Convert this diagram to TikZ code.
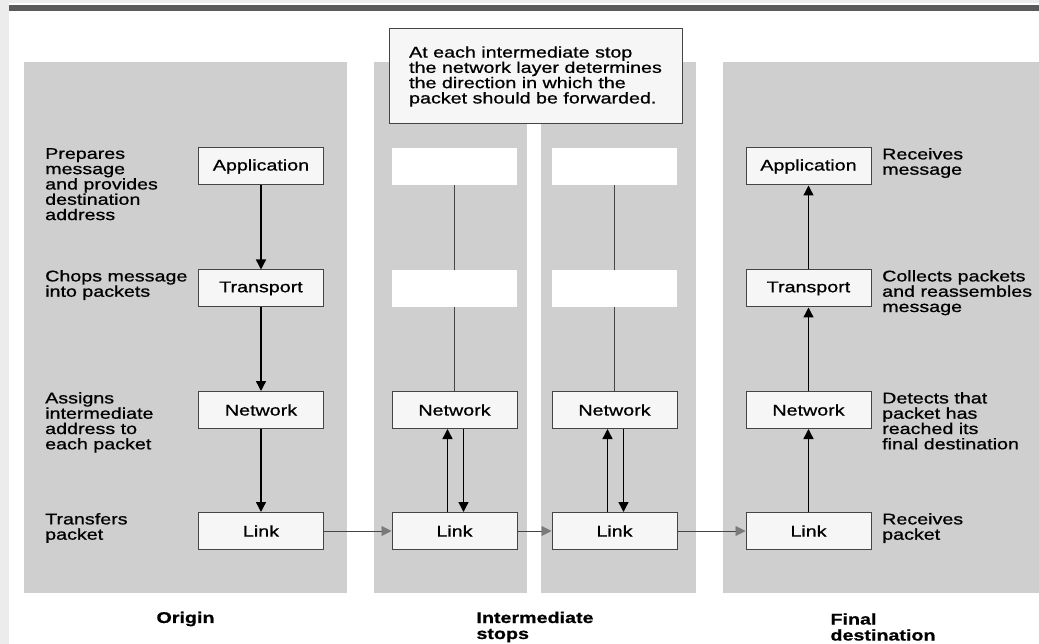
\documentclass[tikz,border=0pt]{standalone}
\usepackage{fontspec}
\setmainfont{Liberation Sans}[FakeStretch=1.27, FakeBold=0.8]
\usetikzlibrary{arrows.meta, positioning}
\definecolor{pagegray}{HTML}{ECECEC}
\definecolor{bargray}{HTML}{5A5A5A}
\definecolor{panelgray}{HTML}{CFCFCF}
\definecolor{boxfill}{HTML}{F6F6F6}
\definecolor{boxedge}{HTML}{454545}
\definecolor{hopgray}{HTML}{7A7A7A}

\begin{document}
\begin{tikzpicture}[x=1pt, y=-1pt,
    every node/.style={font=\fontsize{15.5}{15.3}\selectfont},
    panel/.style={fill=panelgray, draw=none},
    layer/.style={rectangle, draw=boxedge, fill=boxfill, line width=1pt, minimum width=125pt, minimum height=37pt, inner sep=0pt},
    blank/.style={rectangle, fill=white, minimum width=125pt, minimum height=37pt, inner sep=0pt},
    note/.style={anchor=north west, align=left, inner sep=0pt},
    caption/.style={align=left, inner sep=0pt, font=\fontsize{15.5}{16}\selectfont\bfseries},
    pass/.style={-{Triangle[length=10pt, width=10pt]}, line width=1.4pt},
    wire/.style={line width=1.1pt, color=boxedge},
    hop/.style={-{Triangle[length=10pt, width=10pt, color=hopgray]}, line width=0.9pt, color=boxedge}
]
\useasboundingbox (0,0) rectangle (1039,644);

% Page frame
\fill[pagegray] (0,0) rectangle (1039,644);
\fill[white] (9,3) rectangle (1039,644);
\fill[bargray] (9,5) rectangle (1039,11);

% Panels
\fill[panel] (24,62) rectangle (347,593);
\fill[panel] (374,62) rectangle (527,593);
\fill[panel] (541,62) rectangle (696,593);
\fill[panel] (723,62) rectangle (1039,593);

% Callout
\node[rectangle, draw=boxedge, fill=boxfill, line width=1pt, minimum width=293pt, minimum height=95pt, align=left] (callout) at (535.5,76.5)
  {At each intermediate stop\\the network layer determines\\the direction in which the\\packet should be forwarded.};

% Origin
\node[layer] (oapp) at (261,166.5) {Application};
\node[layer] (otra) at (261,288.5) {Transport};
\node[layer] (onet) at (261,410)   {Network};
\node[layer] (olnk) at (261,531)   {Link};

% Intermediate stops
\node[blank] (aapp) at (454.5,166.5) {};
\node[blank] (atra) at (454.5,288.5) {};
\node[layer] (anet) at (454.5,410)   {Network};
\node[layer] (alnk) at (454.5,531)   {Link};

\node[blank] (bapp) at (614.5,166.5) {};
\node[blank] (btra) at (614.5,288.5) {};
\node[layer] (bnet) at (614.5,410)   {Network};
\node[layer] (blnk) at (614.5,531)   {Link};

% Final destination
\node[layer] (fapp) at (808.5,166.5) {Application};
\node[layer] (ftra) at (808.5,288.5) {Transport};
\node[layer] (fnet) at (808.5,410)   {Network};
\node[layer] (flnk) at (808.5,531)   {Link};

% Notes
\node[note] (oappnote) at (45,148) {Prepares\\message\\and provides\\destination\\address};
\node[note] (otranote) at (45,270) {Chops message\\into packets};
\node[note] (onetnote) at (45,392) {Assigns\\intermediate\\address to\\each packet};
\node[note] (olnknote) at (45,513) {Transfers\\packet};
\node[note] (fappnote) at (882,148) {Receives\\message};
\node[note] (ftranote) at (882,270) {Collects packets\\and reassembles\\message};
\node[note] (fnetnote) at (882,392) {Detects that\\packet has\\reached its\\final destination};
\node[note] (flnknote) at (882,513) {Receives\\packet};

% Captions
\node[caption] (origin) at (185.5,619) {Origin};
\node[caption] (inter)  at (535,627)   {Intermediate\\stops};
\node[caption] (final)  at (883,627)   {Final\\destination};

% Down the origin stack
\draw[pass] (oapp) -- (otra);
\draw[pass] (otra) -- (onet);
\draw[pass] (onet) -- (olnk);

% Intermediate stacks
\draw[wire] (aapp) -- (atra);
\draw[wire] (atra) -- (anet);
\draw[wire] (bapp) -- (btra);
\draw[wire] (btra) -- (bnet);
\draw[pass] ([xshift=-7pt]alnk.north) -- ([xshift=-7pt]anet.south);
\draw[pass] ([xshift=9pt]anet.south) -- ([xshift=9pt]alnk.north);
\draw[pass] ([xshift=-7pt]blnk.north) -- ([xshift=-7pt]bnet.south);
\draw[pass] ([xshift=9pt]bnet.south) -- ([xshift=9pt]blnk.north);

% Up the final stack
\draw[pass] (flnk) -- (fnet);
\draw[pass] (fnet) -- (ftra);
\draw[pass] (ftra) -- (fapp);

% Link to link
\draw[hop] (olnk) -- (alnk);
\draw[hop] (alnk) -- (blnk);
\draw[hop] (blnk) -- (flnk);
\end{tikzpicture}
\end{document}
